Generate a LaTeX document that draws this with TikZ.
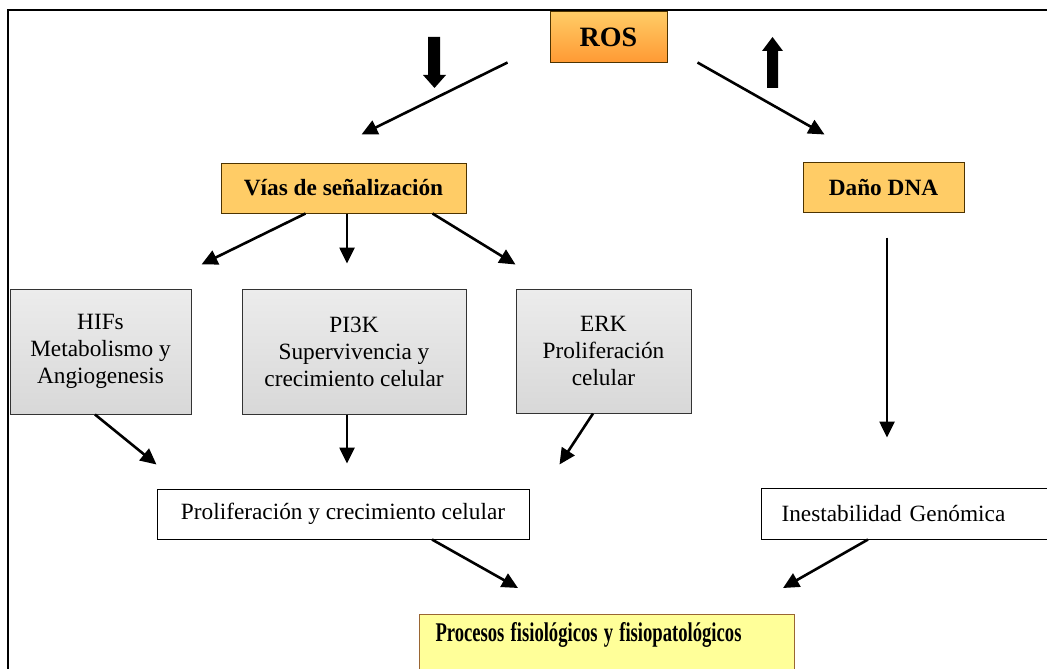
\documentclass[tikz,border=0pt]{standalone}
\usepackage{fontspec}
\setmainfont{Liberation Serif}
\usetikzlibrary{arrows.meta,calc}

\definecolor{naranja}{HTML}{FFCC66}
\definecolor{naranjaosc}{HTML}{FF9933}
\definecolor{amarillo}{HTML}{FFFF99}
\definecolor{marron}{HTML}{4D3300}
\definecolor{ocre}{HTML}{996633}
\definecolor{grisclaro}{HTML}{ECECEC}
\definecolor{grisosc}{HTML}{D8D8D8}

\tikzset{
  caja/.style={draw=black,line width=1pt,font=\fontsize{23.3}{27}\selectfont,inner sep=0pt,align=center},
  cajagris/.style={caja,draw=black!80,top color=grisclaro,bottom color=grisosc},
  cajanar/.style={caja,draw=marron,fill=naranja,font=\fontsize{23.3}{27}\selectfont\bfseries},
  flecha/.style={-{Triangle[length=16pt,width=15pt]},line width=2.6pt},
  bloque/.style={fill=black}
}

\begin{document}
\begin{tikzpicture}[x=1pt,y=-1pt]
\clip(0,0)rectangle(1047,669);
\draw[line width=2pt](8,690)|-(1060,10);
% cajas
\node[caja,draw=marron,top color=naranja,bottom color=naranjaosc,minimum width=117,minimum height=51,font=\fontsize{28}{32}\selectfont\bfseries](ros)at(608.5,37.5){ROS};
\node[cajanar,minimum width=245,minimum height=50](vias)at(343.5,188){Vías de señalización};
\node[cajanar,minimum width=161,minimum height=50](dano)at(883.5,187){Daño DNA};
\node[cajagris,minimum width=181,minimum height=125](hif)at(100.5,351.5){HIFs\\Metabolismo y\\Angiogenesis};
\node[cajagris,minimum width=224,minimum height=125](pi3k)at(354,351.5){PI3K\\Supervivencia y\\crecimiento celular};
\node[cajagris,minimum width=175,minimum height=124](erk)at(603.5,351){ERK\\Proliferación\\celular};
\node[caja,minimum width=372,minimum height=50](prolif)at(343,514){Proliferación y crecimiento celular};
\node[caja,anchor=west,minimum height=51,inner xsep=20pt,text width=259,align=left](inest)at(761,513.5){Inestabilidad Genómica};
\node[caja,draw=ocre,fill=amarillo,anchor=north west,inner xsep=16pt,inner ysep=8pt,text width=343,align=left,text height=19pt,text depth=30pt,font=\fontsize{27}{31}\selectfont\bfseries](proc)at(419,614){\scalebox{0.69}[1]{Procesos fisiológicos y fisiopatológicos}};
% flechas gruesas
\fill[bloque](428,37)--(440,37)--(440,75)--(446,75)--(434.5,88)--(423,75)--(428,75)--cycle;
\fill[bloque](767,88)--(778,88)--(778,51)--(783,51)--(772.5,37)--(762,51)--(767,51)--cycle;
% conectores
\draw[flecha]($(ros.south west)+(-42,-1)$)--($(vias.north west)+(141,-28)$);
\draw[flecha]($(ros.south east)+(30,-1)$)--($(dano.north west)+(22,-27)$);
\draw[flecha]($(vias.south west)+(85,0)$)--($(hif.north west)+(192,-24)$);
\draw[flecha]($(vias.south)+(3.5,0)$)--($(pi3k.north)+(-7,-25)$);
\draw[flecha]($(vias.south east)+(-34,0)$)--($(erk.north west)+(0,-24)$);
\draw[flecha]($(dano.south)+(3.5,25)$)--($(inest.north west)+(126,-50)$);
\draw[flecha]($(hif.south)+(-5.5,0)$)--($(prolif.north west)+(0,-24)$);
\draw[flecha]($(pi3k.south)+(-7,0)$)--($(prolif.north)+(4,-25)$);
\draw[flecha]($(erk.south)+(-10.5,0)$)--($(prolif.north east)+(30,-24)$);
\draw[flecha]($(prolif.south)+(89,0)$)--($(proc.north west)+(99,-26)$);
\draw[flecha]($(inest.south west)+(107,0)$)--($(proc.north west)+(364,-26)$);
\end{tikzpicture}
\end{document}
